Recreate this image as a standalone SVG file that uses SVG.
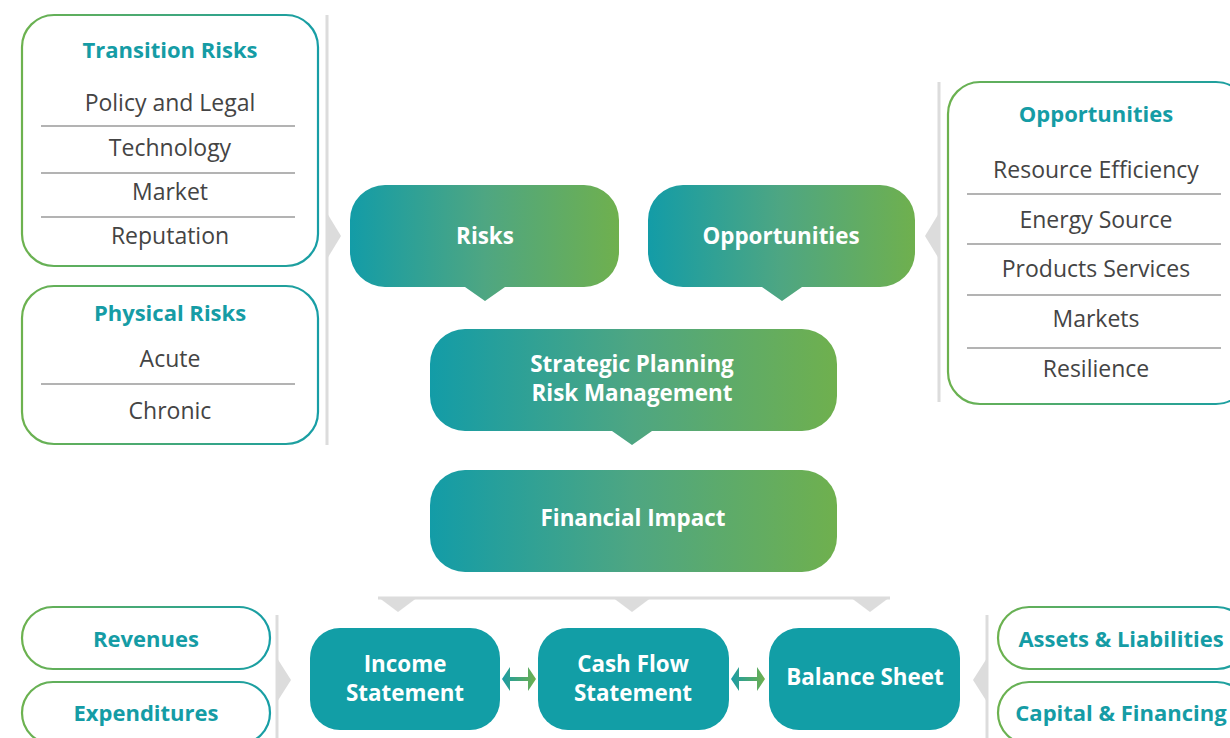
<svg xmlns="http://www.w3.org/2000/svg" width="1230" height="738" viewBox="0 0 1230 738">
<defs>
<linearGradient id="fillG" x1="0" y1="0" x2="1" y2="0">
<stop offset="0" stop-color="#139ca7"/>
<stop offset="0.5" stop-color="#4ea682"/>
<stop offset="1" stop-color="#6fb04e"/>
</linearGradient>
<linearGradient id="strokeG" x1="0" y1="0" x2="1" y2="0">
<stop offset="0" stop-color="#6db24f"/>
<stop offset="1" stop-color="#179ea6"/>
</linearGradient>
<linearGradient id="arrowG" x1="0" y1="0" x2="1" y2="0">
<stop offset="0" stop-color="#1a9ca5"/>
<stop offset="1" stop-color="#6fb04e"/>
</linearGradient>
<style>
.panel{fill:#fff;stroke:url(#strokeG);stroke-width:2.2}
.title{font-family:"Open Sans","Liberation Sans",sans-serif;font-weight:bold;font-size:22px;fill:#159ca5;text-anchor:middle}
.item{font-family:"Open Sans","Liberation Sans",sans-serif;font-size:23px;fill:#444;text-anchor:middle}
.sep{stroke:#9a9a9a;stroke-width:1.5}
.tsep{stroke:url(#strokeG);stroke-width:2}
.wt{font-family:"Open Sans","Liberation Sans",sans-serif;font-weight:bold;font-size:22.4px;fill:#fff;text-anchor:middle}
.gray{fill:#dcdcdc}
.vline{stroke:#dcdcdc;stroke-width:3}
.solid{fill:#129ea6}
</style>
</defs>

<g id="transition-risks">
<rect class="panel" x="22" y="15" width="296" height="251" rx="32"/>
<text class="title" x="170" y="58">Transition Risks</text>
<line class="tsep" x1="41" y1="72" x2="295" y2="72"/>
<text class="item" x="170" y="111">Policy and Legal</text>
<line class="sep" x1="41" y1="126" x2="295" y2="126"/>
<text class="item" x="170" y="156">Technology</text>
<line class="sep" x1="41" y1="173" x2="295" y2="173"/>
<text class="item" x="170" y="200">Market</text>
<line class="sep" x1="41" y1="217" x2="295" y2="217"/>
<text class="item" x="170" y="244">Reputation</text>
</g>

<g id="physical-risks">
<rect class="panel" x="22" y="286" width="296" height="158" rx="32"/>
<text class="title" x="170" y="321">Physical Risks</text>
<line class="tsep" x1="41" y1="333" x2="295" y2="333"/>
<text class="item" x="170" y="367">Acute</text>
<line class="sep" x1="41" y1="384" x2="295" y2="384"/>
<text class="item" x="170" y="419">Chronic</text>
</g>

<g id="opportunities-list">
<rect class="panel" x="948" y="82" width="300" height="322" rx="32"/>
<text class="title" x="1096" y="122">Opportunities</text>
<line class="tsep" x1="967" y1="141" x2="1221" y2="141"/>
<text class="item" x="1096" y="178">Resource Efficiency</text>
<line class="sep" x1="967" y1="194" x2="1221" y2="194"/>
<text class="item" x="1096" y="228">Energy Source</text>
<line class="sep" x1="967" y1="244" x2="1221" y2="244"/>
<text class="item" x="1096" y="277">Products Services</text>
<line class="sep" x1="967" y1="295" x2="1221" y2="295"/>
<text class="item" x="1096" y="327">Markets</text>
<line class="sep" x1="967" y1="348" x2="1221" y2="348"/>
<text class="item" x="1096" y="377">Resilience</text>
</g>

<g id="risks">
<path fill="url(#fillG)" d="M385 185 H584 A35 35 0 0 1 619 220 V252 A35 35 0 0 1 584 287 H505 L485 301 L465 287 H385 A35 35 0 0 1 350 252 V220 A35 35 0 0 1 385 185 Z"/>
<text class="wt" x="485" y="244">Risks</text>
</g>

<g id="opportunities">
<path fill="url(#fillG)" d="M683 185 H880 A35 35 0 0 1 915 220 V252 A35 35 0 0 1 880 287 H802 L782 301 L762 287 H683 A35 35 0 0 1 648 252 V220 A35 35 0 0 1 683 185 Z"/>
<text class="wt" x="781" y="244">Opportunities</text>
</g>

<g id="strategic-planning">
<path fill="url(#fillG)" d="M465 329 H802 A35 35 0 0 1 837 364 V396 A35 35 0 0 1 802 431 H652 L632 445 L612 431 H465 A35 35 0 0 1 430 396 V364 A35 35 0 0 1 465 329 Z"/>
<text class="wt" x="632" y="372">Strategic Planning</text>
<text class="wt" x="632" y="401">Risk Management</text>
</g>

<g id="financial-impact">
<rect fill="url(#fillG)" x="430" y="470" width="407" height="102" rx="35"/>
<text class="wt" x="633" y="526">Financial Impact</text>
</g>

<g id="income-statement">
<rect class="solid" x="310" y="628" width="190" height="102" rx="30"/>
<text class="wt" x="405" y="672">Income</text>
<text class="wt" x="405" y="701">Statement</text>
</g>

<g id="cash-flow-statement">
<rect class="solid" x="538" y="628" width="191" height="102" rx="30"/>
<text class="wt" x="633" y="672">Cash Flow</text>
<text class="wt" x="633" y="701">Statement</text>
</g>

<g id="balance-sheet">
<rect class="solid" x="769" y="628" width="191" height="102" rx="30"/>
<text class="wt" x="865" y="685">Balance Sheet</text>
</g>

<g id="revenues">
<rect class="panel" x="22" y="607" width="248" height="62" rx="31"/>
<text class="title" x="146" y="647">Revenues</text>
</g>
<g id="expenditures">
<rect class="panel" x="22" y="682" width="248" height="62" rx="31"/>
<text class="title" x="146" y="721">Expenditures</text>
</g>
<g id="assets-liabilities">
<rect class="panel" x="998" y="607" width="250" height="62" rx="31"/>
<text class="title" x="1121" y="647">Assets &amp; Liabilities</text>
</g>
<g id="capital-financing">
<rect class="panel" x="998" y="682" width="250" height="62" rx="31"/>
<text class="title" x="1121" y="721">Capital &amp; Financing</text>
</g>

<g id="connectors">
<line class="vline" x1="327" y1="15" x2="327" y2="445"/>
<polygon class="gray" points="327,213 341,236 327,259"/>
<line class="vline" x1="939" y1="82" x2="939" y2="402"/>
<polygon class="gray" points="939,213 925,236 939,259"/>
<path fill="none" stroke="#dcdcdc" stroke-width="3" d="M378 598 H890"/>
<polygon class="gray" points="378,597 418,597 398,612"/>
<polygon class="gray" points="612,597 652,597 632,612"/>
<polygon class="gray" points="850,597 890,597 870,612"/>
<line class="vline" x1="277" y1="615" x2="277" y2="738"/>
<polygon class="gray" points="277,658 291,680 277,702"/>
<line class="vline" x1="987" y1="615" x2="987" y2="738"/>
<polygon class="gray" points="987,658 973,680 987,702"/>
<path fill="url(#arrowG)" d="M502 679 L510 667 V677 H528 V667 L536 679 L528 691 V681 H510 V691 Z"/>
<path fill="url(#arrowG)" d="M731 679 L739 667 V677 H757 V667 L765 679 L757 691 V681 H739 V691 Z"/>
</g>
</svg>
